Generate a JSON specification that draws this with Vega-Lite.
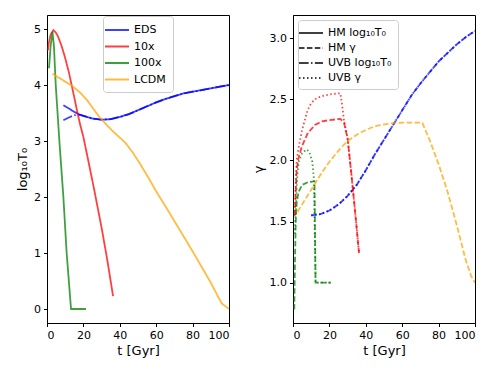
{
  "$schema": "https://vega.github.io/schema/vega-lite/v6.json",
  "padding": {"left": 16, "top": 14, "right": 0, "bottom": 0},
  "background": "white",
  "config": {
    "font": "DejaVu Sans",
    "view": {"stroke": "black", "strokeWidth": 1},
    "axis": {"grid": false, "labelFontSize": 11, "titleFontSize": 13, "titleFontWeight": "normal", "labelColor": "black", "titleColor": "black", "tickColor": "black", "domainColor": "black", "tickSize": 3.5, "labelPadding": 3, "titlePadding": 4, "labelFont": "DejaVu Sans", "titleFont": "DejaVu Sans"},
    "legend": {"labelFontSize": 11, "labelFont": "DejaVu Sans", "labelColor": "black", "symbolType": "M-2,0H2", "symbolStrokeWidth": 2, "symbolSize": 144, "fillColor": "white", "strokeColor": "#cccccc", "padding": 7, "cornerRadius": 3, "rowPadding": 4.5, "labelOffset": 10}
  },
  "data": {"values": [
    {"m":"EDS","k":"HM log₁₀T₀","t":9,"v":3.64},{"m":"EDS","k":"HM log₁₀T₀","t":12,"v":3.58},{"m":"EDS","k":"HM log₁₀T₀","t":15,"v":3.52},{"m":"EDS","k":"HM log₁₀T₀","t":18,"v":3.47},{"m":"EDS","k":"HM log₁₀T₀","t":20,"v":3.45},{"m":"EDS","k":"HM log₁₀T₀","t":25,"v":3.4},{"m":"EDS","k":"HM log₁₀T₀","t":30,"v":3.38},{"m":"EDS","k":"HM log₁₀T₀","t":35,"v":3.39},{"m":"EDS","k":"HM log₁₀T₀","t":40,"v":3.43},{"m":"EDS","k":"HM log₁₀T₀","t":45,"v":3.48},{"m":"EDS","k":"HM log₁₀T₀","t":50,"v":3.55},{"m":"EDS","k":"HM log₁₀T₀","t":55,"v":3.62},{"m":"EDS","k":"HM log₁₀T₀","t":60,"v":3.69},{"m":"EDS","k":"HM log₁₀T₀","t":65,"v":3.75},{"m":"EDS","k":"HM log₁₀T₀","t":70,"v":3.8},{"m":"EDS","k":"HM log₁₀T₀","t":75,"v":3.85},{"m":"EDS","k":"HM log₁₀T₀","t":80,"v":3.88},{"m":"EDS","k":"HM log₁₀T₀","t":85,"v":3.91},{"m":"EDS","k":"HM log₁₀T₀","t":90,"v":3.94},{"m":"EDS","k":"HM log₁₀T₀","t":95,"v":3.97},{"m":"EDS","k":"HM log₁₀T₀","t":100,"v":4.0},
    {"m":"EDS","k":"UVB log₁₀T₀","t":9,"v":3.37},{"m":"EDS","k":"UVB log₁₀T₀","t":12,"v":3.42},{"m":"EDS","k":"UVB log₁₀T₀","t":15,"v":3.46},{"m":"EDS","k":"UVB log₁₀T₀","t":18,"v":3.47},{"m":"EDS","k":"UVB log₁₀T₀","t":20,"v":3.45},{"m":"EDS","k":"UVB log₁₀T₀","t":25,"v":3.4},{"m":"EDS","k":"UVB log₁₀T₀","t":30,"v":3.38},{"m":"EDS","k":"UVB log₁₀T₀","t":35,"v":3.39},{"m":"EDS","k":"UVB log₁₀T₀","t":40,"v":3.43},{"m":"EDS","k":"UVB log₁₀T₀","t":45,"v":3.48},{"m":"EDS","k":"UVB log₁₀T₀","t":50,"v":3.55},{"m":"EDS","k":"UVB log₁₀T₀","t":55,"v":3.62},{"m":"EDS","k":"UVB log₁₀T₀","t":60,"v":3.69},{"m":"EDS","k":"UVB log₁₀T₀","t":65,"v":3.75},{"m":"EDS","k":"UVB log₁₀T₀","t":70,"v":3.8},{"m":"EDS","k":"UVB log₁₀T₀","t":75,"v":3.85},{"m":"EDS","k":"UVB log₁₀T₀","t":80,"v":3.88},{"m":"EDS","k":"UVB log₁₀T₀","t":85,"v":3.91},{"m":"EDS","k":"UVB log₁₀T₀","t":90,"v":3.94},{"m":"EDS","k":"UVB log₁₀T₀","t":95,"v":3.97},{"m":"EDS","k":"UVB log₁₀T₀","t":100,"v":4.0},
    {"m":"10x","k":"HM log₁₀T₀","t":0.5,"v":4.62},{"m":"10x","k":"HM log₁₀T₀","t":1,"v":4.75},{"m":"10x","k":"HM log₁₀T₀","t":2,"v":4.9},{"m":"10x","k":"HM log₁₀T₀","t":3.5,"v":4.98},{"m":"10x","k":"HM log₁₀T₀","t":5,"v":4.93},{"m":"10x","k":"HM log₁₀T₀","t":6,"v":4.87},{"m":"10x","k":"HM log₁₀T₀","t":8,"v":4.7},{"m":"10x","k":"HM log₁₀T₀","t":10,"v":4.48},{"m":"10x","k":"HM log₁₀T₀","t":12,"v":4.23},{"m":"10x","k":"HM log₁₀T₀","t":14,"v":3.93},{"m":"10x","k":"HM log₁₀T₀","t":16,"v":3.62},{"m":"10x","k":"HM log₁₀T₀","t":18,"v":3.32},{"m":"10x","k":"HM log₁₀T₀","t":20,"v":3.07},{"m":"10x","k":"HM log₁₀T₀","t":23,"v":2.6},{"m":"10x","k":"HM log₁₀T₀","t":26,"v":2.12},{"m":"10x","k":"HM log₁₀T₀","t":30,"v":1.45},{"m":"10x","k":"HM log₁₀T₀","t":33,"v":0.9},{"m":"10x","k":"HM log₁₀T₀","t":36.3,"v":0.23},
    {"m":"100x","k":"HM log₁₀T₀","t":1.1,"v":4.3},{"m":"100x","k":"HM log₁₀T₀","t":2,"v":4.7},{"m":"100x","k":"HM log₁₀T₀","t":3,"v":4.95},{"m":"100x","k":"HM log₁₀T₀","t":3.8,"v":4.7},{"m":"100x","k":"HM log₁₀T₀","t":4.8,"v":4.0},{"m":"100x","k":"HM log₁₀T₀","t":6.8,"v":3.0},{"m":"100x","k":"HM log₁₀T₀","t":9,"v":2.0},{"m":"100x","k":"HM log₁₀T₀","t":10.8,"v":1.0},{"m":"100x","k":"HM log₁₀T₀","t":13.2,"v":0.0},{"m":"100x","k":"HM log₁₀T₀","t":21.4,"v":0.0},
    {"m":"LCDM","k":"HM log₁₀T₀","t":3,"v":4.2},{"m":"LCDM","k":"HM log₁₀T₀","t":6,"v":4.14},{"m":"LCDM","k":"HM log₁₀T₀","t":10,"v":4.06},{"m":"LCDM","k":"HM log₁₀T₀","t":14,"v":3.98},{"m":"LCDM","k":"HM log₁₀T₀","t":18,"v":3.87},{"m":"LCDM","k":"HM log₁₀T₀","t":22,"v":3.73},{"m":"LCDM","k":"HM log₁₀T₀","t":26,"v":3.55},{"m":"LCDM","k":"HM log₁₀T₀","t":29,"v":3.42},{"m":"LCDM","k":"HM log₁₀T₀","t":33,"v":3.28},{"m":"LCDM","k":"HM log₁₀T₀","t":36,"v":3.18},{"m":"LCDM","k":"HM log₁₀T₀","t":40,"v":3.06},{"m":"LCDM","k":"HM log₁₀T₀","t":43,"v":2.97},{"m":"LCDM","k":"HM log₁₀T₀","t":47,"v":2.8},{"m":"LCDM","k":"HM log₁₀T₀","t":51,"v":2.6},{"m":"LCDM","k":"HM log₁₀T₀","t":56,"v":2.33},{"m":"LCDM","k":"HM log₁₀T₀","t":60,"v":2.1},{"m":"LCDM","k":"HM log₁₀T₀","t":65,"v":1.84},{"m":"LCDM","k":"HM log₁₀T₀","t":70,"v":1.57},{"m":"LCDM","k":"HM log₁₀T₀","t":75,"v":1.3},{"m":"LCDM","k":"HM log₁₀T₀","t":80,"v":1.03},{"m":"LCDM","k":"HM log₁₀T₀","t":85,"v":0.75},{"m":"LCDM","k":"HM log₁₀T₀","t":90,"v":0.47},{"m":"LCDM","k":"HM log₁₀T₀","t":94,"v":0.22},{"m":"LCDM","k":"HM log₁₀T₀","t":96,"v":0.1},{"m":"LCDM","k":"HM log₁₀T₀","t":100,"v":0.0},
    {"m":"EDS","k":"HM γ","t":10,"v":1.55},{"m":"EDS","k":"HM γ","t":15,"v":1.56},{"m":"EDS","k":"HM γ","t":20,"v":1.59},{"m":"EDS","k":"HM γ","t":25,"v":1.64},{"m":"EDS","k":"HM γ","t":30,"v":1.71},{"m":"EDS","k":"HM γ","t":35,"v":1.8},{"m":"EDS","k":"HM γ","t":40,"v":1.92},{"m":"EDS","k":"HM γ","t":45,"v":2.05},{"m":"EDS","k":"HM γ","t":50,"v":2.17},{"m":"EDS","k":"HM γ","t":55,"v":2.29},{"m":"EDS","k":"HM γ","t":60,"v":2.41},{"m":"EDS","k":"HM γ","t":65,"v":2.53},{"m":"EDS","k":"HM γ","t":70,"v":2.63},{"m":"EDS","k":"HM γ","t":75,"v":2.72},{"m":"EDS","k":"HM γ","t":80,"v":2.81},{"m":"EDS","k":"HM γ","t":85,"v":2.88},{"m":"EDS","k":"HM γ","t":90,"v":2.95},{"m":"EDS","k":"HM γ","t":95,"v":3.01},{"m":"EDS","k":"HM γ","t":100,"v":3.06},
    {"m":"EDS","k":"UVB γ","t":10,"v":1.55},{"m":"EDS","k":"UVB γ","t":15,"v":1.56},{"m":"EDS","k":"UVB γ","t":20,"v":1.59},{"m":"EDS","k":"UVB γ","t":25,"v":1.64},{"m":"EDS","k":"UVB γ","t":30,"v":1.71},{"m":"EDS","k":"UVB γ","t":35,"v":1.8},{"m":"EDS","k":"UVB γ","t":40,"v":1.92},{"m":"EDS","k":"UVB γ","t":45,"v":2.05},{"m":"EDS","k":"UVB γ","t":50,"v":2.17},{"m":"EDS","k":"UVB γ","t":55,"v":2.29},{"m":"EDS","k":"UVB γ","t":60,"v":2.41},{"m":"EDS","k":"UVB γ","t":65,"v":2.53},{"m":"EDS","k":"UVB γ","t":70,"v":2.63},{"m":"EDS","k":"UVB γ","t":75,"v":2.72},{"m":"EDS","k":"UVB γ","t":80,"v":2.81},{"m":"EDS","k":"UVB γ","t":85,"v":2.88},{"m":"EDS","k":"UVB γ","t":90,"v":2.95},{"m":"EDS","k":"UVB γ","t":95,"v":3.01},{"m":"EDS","k":"UVB γ","t":100,"v":3.06},
    {"m":"10x","k":"HM γ","t":1,"v":1.55},{"m":"10x","k":"HM γ","t":1.5,"v":1.75},{"m":"10x","k":"HM γ","t":2,"v":1.92},{"m":"10x","k":"HM γ","t":3,"v":2.02},{"m":"10x","k":"HM γ","t":5,"v":2.12},{"m":"10x","k":"HM γ","t":8,"v":2.22},{"m":"10x","k":"HM γ","t":12,"v":2.29},{"m":"10x","k":"HM γ","t":16,"v":2.32},{"m":"10x","k":"HM γ","t":20,"v":2.33},{"m":"10x","k":"HM γ","t":26,"v":2.34},{"m":"10x","k":"HM γ","t":28,"v":2.31},{"m":"10x","k":"HM γ","t":30,"v":2.18},{"m":"10x","k":"HM γ","t":32,"v":1.9},{"m":"10x","k":"HM γ","t":34,"v":1.6},{"m":"10x","k":"HM γ","t":36.3,"v":1.24},
    {"m":"10x","k":"UVB γ","t":1,"v":1.55},{"m":"10x","k":"UVB γ","t":1.5,"v":1.8},{"m":"10x","k":"UVB γ","t":2,"v":2.0},{"m":"10x","k":"UVB γ","t":3,"v":2.1},{"m":"10x","k":"UVB γ","t":5,"v":2.25},{"m":"10x","k":"UVB γ","t":8,"v":2.41},{"m":"10x","k":"UVB γ","t":10,"v":2.47},{"m":"10x","k":"UVB γ","t":13,"v":2.51},{"m":"10x","k":"UVB γ","t":17,"v":2.53},{"m":"10x","k":"UVB γ","t":20,"v":2.54},{"m":"10x","k":"UVB γ","t":26,"v":2.55},{"m":"10x","k":"UVB γ","t":27,"v":2.45},{"m":"10x","k":"UVB γ","t":28,"v":2.33},{"m":"10x","k":"UVB γ","t":30,"v":2.18},{"m":"10x","k":"UVB γ","t":32,"v":1.9},{"m":"10x","k":"UVB γ","t":34,"v":1.6},{"m":"10x","k":"UVB γ","t":36.3,"v":1.24},
    {"m":"100x","k":"HM γ","t":0.7,"v":0.78},{"m":"100x","k":"HM γ","t":1,"v":1.1},{"m":"100x","k":"HM γ","t":1.5,"v":1.5},{"m":"100x","k":"HM γ","t":2,"v":1.65},{"m":"100x","k":"HM γ","t":3,"v":1.74},{"m":"100x","k":"HM γ","t":5,"v":1.8},{"m":"100x","k":"HM γ","t":8,"v":1.82},{"m":"100x","k":"HM γ","t":11.8,"v":1.83},{"m":"100x","k":"HM γ","t":12.4,"v":1.0},{"m":"100x","k":"HM γ","t":20.7,"v":1.0},
    {"m":"100x","k":"UVB γ","t":1,"v":1.4},{"m":"100x","k":"UVB γ","t":1.5,"v":1.6},{"m":"100x","k":"UVB γ","t":2,"v":1.78},{"m":"100x","k":"UVB γ","t":2.5,"v":1.9},{"m":"100x","k":"UVB γ","t":3.3,"v":2.0},{"m":"100x","k":"UVB γ","t":5,"v":2.06},{"m":"100x","k":"UVB γ","t":7.5,"v":2.09},{"m":"100x","k":"UVB γ","t":9,"v":2.07},{"m":"100x","k":"UVB γ","t":10.6,"v":1.99},{"m":"100x","k":"UVB γ","t":11.5,"v":1.85},{"m":"100x","k":"UVB γ","t":12.4,"v":1.0},{"m":"100x","k":"UVB γ","t":20.7,"v":1.0},
    {"m":"LCDM","k":"HM γ","t":2.5,"v":1.58},{"m":"LCDM","k":"HM γ","t":5,"v":1.64},{"m":"LCDM","k":"HM γ","t":10,"v":1.76},{"m":"LCDM","k":"HM γ","t":15,"v":1.88},{"m":"LCDM","k":"HM γ","t":20,"v":1.99},{"m":"LCDM","k":"HM γ","t":25,"v":2.08},{"m":"LCDM","k":"HM γ","t":30,"v":2.16},{"m":"LCDM","k":"HM γ","t":35,"v":2.21},{"m":"LCDM","k":"HM γ","t":40,"v":2.25},{"m":"LCDM","k":"HM γ","t":45,"v":2.28},{"m":"LCDM","k":"HM γ","t":50,"v":2.295},{"m":"LCDM","k":"HM γ","t":55,"v":2.305},{"m":"LCDM","k":"HM γ","t":60,"v":2.31},{"m":"LCDM","k":"HM γ","t":65,"v":2.31},{"m":"LCDM","k":"HM γ","t":71,"v":2.31},{"m":"LCDM","k":"HM γ","t":75,"v":2.17},{"m":"LCDM","k":"HM γ","t":80,"v":1.97},{"m":"LCDM","k":"HM γ","t":85,"v":1.74},{"m":"LCDM","k":"HM γ","t":90,"v":1.47},{"m":"LCDM","k":"HM γ","t":95,"v":1.18},{"m":"LCDM","k":"HM γ","t":98,"v":1.05},{"m":"LCDM","k":"HM γ","t":100,"v":1.0}
  ]},
  "spacing": 21,
  "resolve": {"scale": {"color": "independent", "strokeDash": "independent"}, "legend": {"color": "independent", "strokeDash": "independent"}},
  "hconcat": [
    {
      "width": 182, "height": 308,
      "transform": [{"filter": {"field": "k", "oneOf": ["HM log₁₀T₀", "UVB log₁₀T₀"]}}],
      "mark": {"type": "line", "strokeWidth": 1.8, "opacity": 0.75, "clip": true},
      "encoding": {
        "x": {"field": "t", "type": "quantitative", "scale": {"domain": [0, 100], "nice": false}, "axis": {"values": [0, 20, 40, 60, 80, 100], "title": "t [Gyr]"}},
        "y": {"field": "v", "type": "quantitative", "scale": {"domain": [-0.25, 5.25], "nice": false, "zero": false}, "axis": {"values": [0, 1, 2, 3, 4, 5], "title": "log₁₀T₀"}},
        "color": {"field": "m", "type": "nominal", "scale": {"domain": ["EDS", "10x", "100x", "LCDM"], "range": ["#0000ff", "#ff0000", "#008000", "#ffa500"]}, "legend": {"title": null, "orient": "none", "legendX": 56, "legendY": 1}},
        "strokeDash": {"field": "k", "type": "nominal", "scale": {"domain": ["HM log₁₀T₀", "UVB log₁₀T₀"], "range": [[1, 0], [9.6, 2.4, 1.5, 2.4]]}, "legend": null}
      }
    },
    {
      "width": 182, "height": 308,
      "transform": [{"filter": {"field": "k", "oneOf": ["HM γ", "UVB γ"]}}],
      "mark": {"type": "line", "strokeWidth": 1.8, "opacity": 0.75, "clip": true},
      "encoding": {
        "x": {"field": "t", "type": "quantitative", "scale": {"domain": [0, 100], "nice": false}, "axis": {"values": [0, 20, 40, 60, 80, 100], "title": "t [Gyr]"}},
        "y": {"field": "v", "type": "quantitative", "scale": {"domain": [0.67, 3.19], "nice": false, "zero": false}, "axis": {"values": [1, 1.5, 2, 2.5, 3], "format": ".1f", "title": "γ"}},
        "color": {"field": "m", "type": "nominal", "scale": {"domain": ["EDS", "10x", "100x", "LCDM"], "range": ["#0000ff", "#ff0000", "#008000", "#ffa500"]}, "legend": null},
        "strokeDash": {"field": "k", "type": "nominal", "scale": {"domain": ["HM log₁₀T₀", "HM γ", "UVB log₁₀T₀", "UVB γ"], "range": [[1, 0], [5.5, 2.4], [9.6, 2.4, 1.5, 2.4], [1.5, 2.5]]}, "legend": {"title": null, "orient": "none", "legendX": 5, "legendY": 5, "padding": 6, "rowPadding": 3, "symbolStrokeColor": "black", "symbolStrokeWidth": 1.8}}
      }
    }
  ]
}
